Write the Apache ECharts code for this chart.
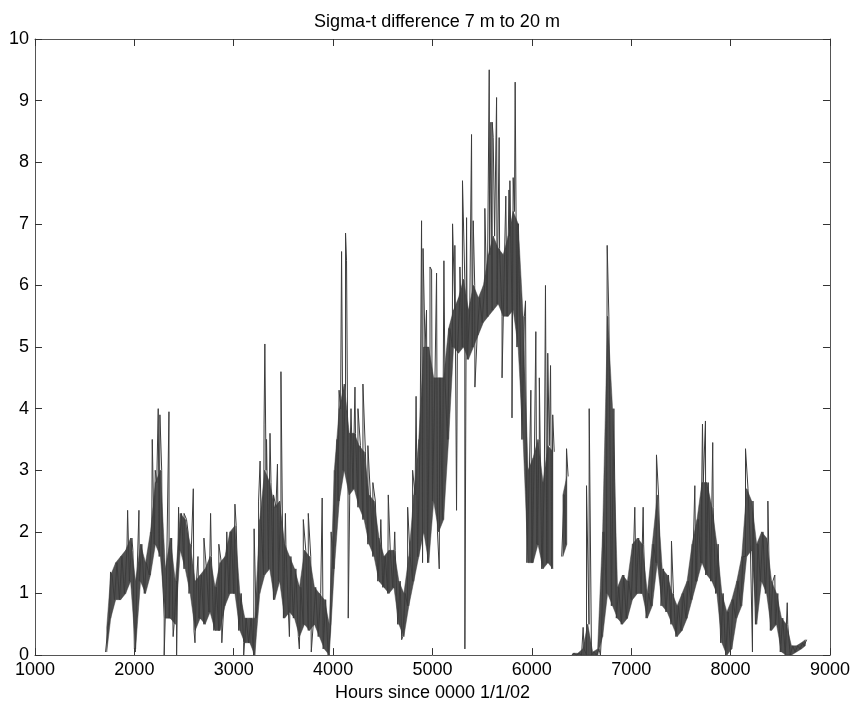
<!DOCTYPE html>
<html>
<head>
<meta charset="utf-8">
<script src="https://cdn.jsdelivr.net/npm/echarts@6/dist/echarts.min.js"></script>
<style>
html,body{margin:0;padding:0;background:#fff;}
#chart{width:853px;height:707px;}
</style>
</head>
<body>
<div id="chart"></div>
<script>
// Sampling grid (hours since 0000 1/1/02), ~50-hour bins
var hours = [1710,1750,1800,1850,1900,1950,2000,2050,2100,2150,2200,2250,2300,2350,2400,2450,2500,2550,2600,2650,
2700,2750,2800,2850,2900,2950,3000,3050,3100,3150,3200,3250,3300,3350,3400,3450,3500,3550,3600,3650,
3700,3750,3800,3850,3900,3950,4000,4050,4100,4150,4200,4250,4300,4350,4400,4450,4500,4550,4600,4650,
4700,4750,4800,4850,4900,4950,5000,5050,5100,5150,5200,5250,5300,5350,5400,5450,5500,5550,5600,5650,
5700,5750,5800,5850,5900,5950,6000,6050,6100,6150,6200,6250,6300,6340,6370,6400,6450,6500,6550,6600,6650,
6700,6750,6800,6850,6900,6950,7000,7050,7100,7150,7200,7250,7300,7350,7400,7450,7500,7550,7600,7650,
7700,7750,7800,7850,7900,7950,8000,8050,8100,8150,8200,8250,8300,8350,8400,8450,8500,8550,8600,8650,
8700,8740];
// Lower edge of the dense band in each bin (null = no data)
var lowVals = [0.05,0.6,0.9,0.9,1.0,1.2,0.1,1.2,1.0,1.3,1.8,1.6,0.6,0.6,0.5,1.7,1.4,1.0,0.4,0.6,
0.5,0.7,0.4,0.4,0.8,1.0,1.0,0.4,0.2,0.2,0.0,1.0,1.3,1.4,0.9,1.2,0.6,0.7,0.6,0.3,
0.5,0.4,0.5,0.3,0.1,0.0,1.4,2.5,3.0,2.6,2.7,2.4,2.2,1.8,1.6,1.2,1.1,1.0,1.1,0.5,
0.3,0.8,1.2,1.6,2.0,1.5,2.5,2.0,2.2,3.5,5.0,4.9,5.0,4.8,5.0,5.2,5.4,5.5,5.6,5.7,
5.5,5.5,5.6,5.0,3.5,1.5,1.5,1.8,1.4,1.5,1.4,null,1.6,1.8,null,0.0,0.0,0.0,0.0,0.0,0.0,
0.3,1.0,0.8,0.6,0.5,0.6,0.9,1.0,1.0,0.6,0.8,1.5,0.8,0.7,0.5,0.3,0.4,0.6,0.9,1.2,
1.5,1.3,1.2,1.0,0.2,0.0,0.1,0.6,0.8,1.6,1.7,0.5,1.2,1.0,0.4,0.5,0.05,0.0,0.0,0.05,
0.1,0.15];
// Upper edge of the dense band in each bin
var highVals = [0.45,1.3,1.5,1.6,1.7,1.9,1.2,1.8,1.5,2.0,2.8,3.0,1.4,1.9,1.2,2.3,2.2,1.8,1.2,1.3,
1.4,1.6,1.1,1.5,1.6,2.0,2.1,1.0,0.6,0.6,0.6,2.2,3.0,2.8,2.4,2.5,1.8,1.6,1.4,1.1,
1.7,1.6,1.1,1.0,0.9,0.5,3.0,4.0,4.4,3.6,3.6,3.4,3.3,2.6,2.5,1.9,1.6,1.7,1.7,1.2,
1.0,1.6,2.6,3.5,5.0,5.0,4.5,4.5,4.5,5.3,5.6,5.8,6.1,5.6,6.0,5.8,6.0,6.5,6.8,6.6,
6.5,6.8,7.2,7.0,5.5,3.0,3.2,3.5,2.8,3.4,3.3,null,2.6,2.9,null,0.03,0.03,0.1,0.5,0.05,0.1,
2.0,5.5,4.0,1.1,1.3,1.2,1.8,1.9,1.8,1.0,1.8,2.6,1.4,1.3,1.0,0.8,1.0,1.2,1.8,2.2,
2.8,2.8,2.4,1.8,1.0,0.7,0.9,1.2,1.6,2.7,2.5,1.8,2.0,1.9,1.2,1.0,0.6,0.5,0.15,0.15,
0.2,0.25];
// Isolated spikes and drop-outs: [hour, value]
var spikes = [[1760,1.35],[1880,1.6],[1932,2.35],[1985,1.7],[2010,0.05],[2020,0.05],[2046,2.35],[2120,1.5],
[2180,3.5],[2210,3.0],[2240,4.0],[2257,3.9],[2280,1.5],[2300,0.0],[2348,3.95],[2390,0.3],[2425,0.0],[2445,2.4],
[2500,2.3],[2540,2.0],[2593,2.7],[2610,0.2],[2640,1.6],[2700,1.9],[2767,2.3],[2850,1.8],[2880,0.2],[2930,2.0],
[3012,2.45],[3100,0.0],[3205,2.05],[3250,2.5],[3265,3.15],[3305,3.75],[3313,5.05],[3330,3.5],[3365,3.6],
[3400,2.6],[3440,3.1],[3475,4.6],[3520,2.3],[3560,0.3],[3660,0.1],[3700,2.2],[3750,2.3],[3780,0.05],[3890,2.55],
[3960,0.0],[3980,2.0],[4040,3.5],[4060,4.3],[4085,6.55],[4125,6.85],[4135,6.4],[4152,0.6],[4180,4.0],[4220,4.35],
[4250,4.0],[4300,4.4],[4350,3.4],[4400,2.8],[4480,2.2],[4555,2.6],[4620,2.0],[4690,0.25],[4720,0.3],[4750,2.4],
[4800,3.0],[4835,4.2],[4890,7.05],[4900,1.5],[4905,6.6],[4940,5.6],[4975,6.3],[4991,6.25],[5041,6.2],[5068,1.4],
[5115,6.4],[5202,7.0],[5225,6.65],[5242,2.35],[5276,6.3],[5302,7.7],[5326,0.1],[5343,7.1],[5393,8.45],
[5410,7.05],[5427,4.35],[5527,7.25],[5571,9.5],[5588,8.65],[5601,8.65],[5611,8.4],[5645,9.05],[5671,8.4],
[5700,4.5],[5738,7.45],[5770,7.55],[5779,7.7],[5800,3.85],[5812,7.75],[5832,9.3],[5863,7.0],[5936,5.75],
[5990,4.3],[6040,5.25],[6075,4.5],[6137,6.0],[6160,4.9],[6188,4.7],[6210,3.9],[6349,3.35],[6382,0.0],
[6516,0.45],[6550,2.75],[6577,4.0],[6690,0.0],[6758,6.65],[6785,5.5],[7036,2.4],[7120,2.4],[7254,3.25],
[7405,1.85],[7640,2.75],[7717,3.75],[7747,3.8],[7820,3.45],[8150,3.35],[8220,0.05],[8375,2.5],[8445,1.3],
[8570,0.85]];
var xTicks = [1000,2000,3000,4000,5000,6000,7000,8000,9000];
var yTicks = [0,1,2,3,4,5,6,7,8,9,10];

// Zigzag trace: band low/high per bin + spikes, sorted by hour
var pts = [];
for (var i = 0; i < hours.length; i++) {
  if (lowVals[i] === null) { pts.push([hours[i], null]); pts.push([hours[i] + 15, null]); continue; }
  pts.push([hours[i], lowVals[i]]);
  pts.push([hours[i] + 25, highVals[i]]);
}
spikes.forEach(function (s) { pts.push([s[0], s[1]]); });
pts.sort(function (a, b) { return a[0] - b[0]; });

// Envelope segments between consecutive bins: [h0, lo0, hi0, h1, lo1, hi1]
var bandSegs = [];
for (var j = 0; j < hours.length - 1; j++) {
  if (lowVals[j] === null || lowVals[j + 1] === null) continue;
  bandSegs.push([hours[j] + 12, lowVals[j], highVals[j], hours[j + 1] + 12, lowVals[j + 1], highVals[j + 1]]);
}

var font = 'Liberation Sans, Arial, sans-serif';
var ink = '#3c3c3c';
var chart = echarts.init(document.getElementById('chart'), null, {renderer: 'canvas'});
var axisLineStyle = {color: '#555', width: 1};
chart.setOption({
  animation: false,
  backgroundColor: '#fff',
  title: {
    text: 'Sigma-t difference 7 m to 20 m',
    left: 432, top: 8, textAlign: 'center',
    textStyle: {fontFamily: font, fontSize: 18, fontWeight: 'normal', color: '#000'}
  },
  grid: {left: 35, right: 23, top: 39, bottom: 50, containLabel: false},
  xAxis: [{
    type: 'value', min: xTicks[0], max: xTicks[xTicks.length - 1], interval: 1000,
    name: 'Hours since 0000 1/1/02', nameLocation: 'middle', nameGap: 26,
    nameTextStyle: {fontFamily: font, fontSize: 18, color: '#000'},
    axisLine: {show: true, lineStyle: axisLineStyle},
    axisTick: {show: true, inside: true, length: 7, lineStyle: {color: '#333'}},
    axisLabel: {fontFamily: font, fontSize: 18, color: '#000', margin: 6,
      formatter: function (v) { return String(v); }},
    splitLine: {show: false}
  }, {
    type: 'value', position: 'top', min: xTicks[0], max: xTicks[xTicks.length - 1], interval: 1000,
    axisLine: {show: true, onZero: false, lineStyle: axisLineStyle},
    axisTick: {show: true, inside: true, length: 7, lineStyle: {color: '#333'}},
    axisLabel: {show: false}, splitLine: {show: false}
  }],
  yAxis: [{
    type: 'value', min: yTicks[0], max: yTicks[yTicks.length - 1], interval: 1,
    axisLine: {show: true, lineStyle: axisLineStyle},
    axisTick: {show: true, inside: true, length: 7, lineStyle: {color: '#333'}},
    axisLabel: {fontFamily: font, fontSize: 18, color: '#000', margin: 6},
    splitLine: {show: false}
  }, {
    type: 'value', position: 'right', min: yTicks[0], max: yTicks[yTicks.length - 1], interval: 1,
    axisLine: {show: true, onZero: false, lineStyle: axisLineStyle},
    axisTick: {show: true, inside: true, length: 7, lineStyle: {color: '#333'}},
    axisLabel: {show: false}, splitLine: {show: false}
  }],
  series: [{
    type: 'custom', xAxisIndex: 0, yAxisIndex: 0, silent: true,
    data: bandSegs,
    encode: {x: [0, 3], y: [1, 2, 4, 5]},
    clip: true,
    renderItem: function (params, api) {
      var a = api.coord([api.value(0), api.value(1)]);
      var b = api.coord([api.value(3), api.value(4)]);
      var c = api.coord([api.value(3), api.value(5)]);
      var d = api.coord([api.value(0), api.value(2)]);
      return {
        type: 'polygon',
        shape: {points: [a, b, c, d]},
        style: {fill: ink, stroke: ink, lineWidth: 0.5, opacity: 0.9}
      };
    }
  }, {
    type: 'line', xAxisIndex: 0, yAxisIndex: 0,
    data: pts, showSymbol: false, symbol: 'none',
    connectNulls: false, sampling: null,
    lineStyle: {color: ink, width: 1},
    clip: true
  }]
});
</script>
</body>
</html>
